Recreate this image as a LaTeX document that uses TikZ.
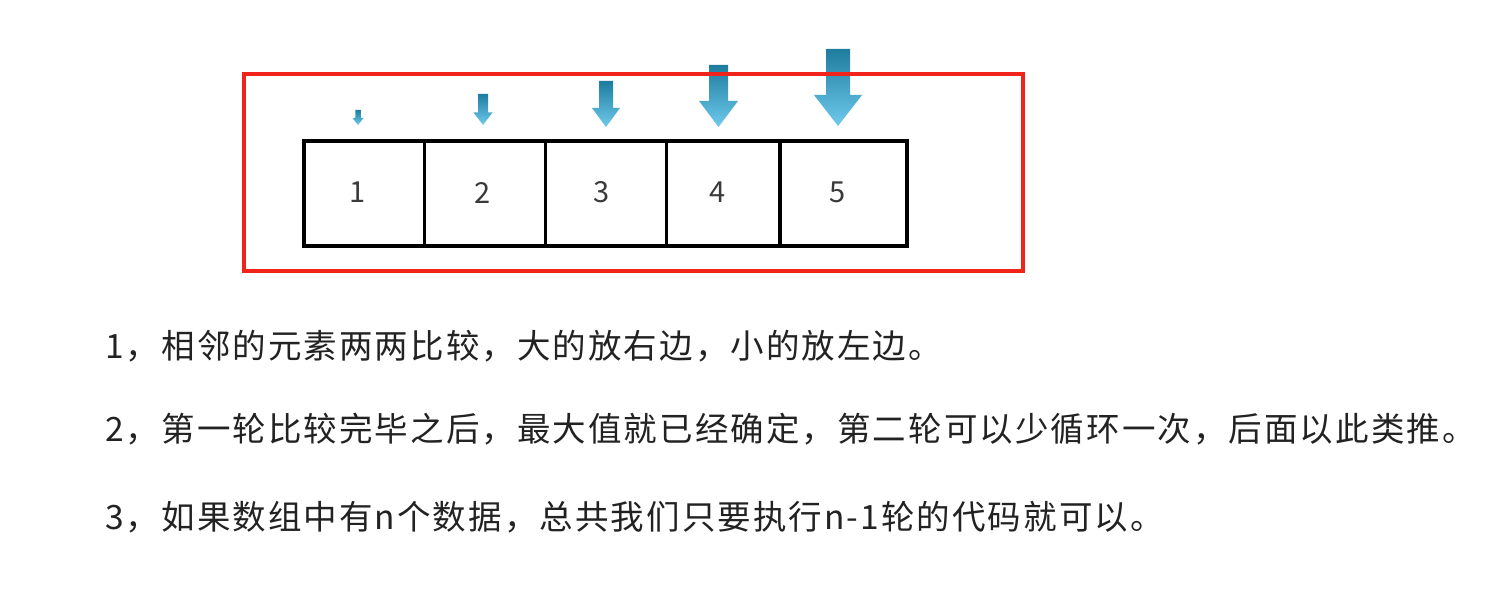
\documentclass[tikz,border=0pt]{standalone}
\usepackage{fontspec}
\newfontfamily\cjk{Noto Sans CJK SC}
\definecolor{redbox}{HTML}{F0241A}
\definecolor{arrtop}{HTML}{1E7C9E}
\definecolor{arrbot}{HTML}{6FCAEC}
\definecolor{txt}{HTML}{222222}
\definecolor{numc}{HTML}{3A3A3A}
\newcommand\dnarr[6]{%
  \shade[top color=arrtop, bottom color=arrbot]
    (#1-#2,#4) -- (#1+#2,#4) -- (#1+#2,#5) -- (#1+#3,#5) -- (#1,#6)
    -- (#1-#3,#5) -- (#1-#2,#5) -- cycle;}
\begin{document}
\begin{tikzpicture}[x=1pt,y=-1pt,
  cell/.style={draw=black, line width=3.7pt, minimum height=105pt,
    inner sep=0pt, outer sep=0pt, anchor=north west},
  num/.style={text=numc, font=\cjk\fontsize{29}{34}\selectfont, inner sep=0pt},
  line/.style={anchor=west, text=txt, inner sep=0pt,
    font=\cjk\fontsize{33.5}{40}\selectfont\addfontfeature{LetterSpace=6.2}}]
\useasboundingbox[fill=white] (0,0) rectangle (1493,591);
% arrows
\dnarr{358}{2.75}{5.5}{110}{118}{125}
\dnarr{483}{5}{9.5}{94}{112.5}{125}
\dnarr{606}{7}{14}{81}{108}{127}
\dnarr{718.5}{9.5}{19.5}{65}{101}{127}
\dnarr{838}{12}{24}{49}{95}{126}
% cells
\node[cell, minimum width=120.5pt] (c1) at (304,141) {};
\node[cell, minimum width=121pt] (c2) at (424.5,141) {};
\node[cell, minimum width=121pt] (c3) at (545.5,141) {};
\node[cell, minimum width=113.5pt] (c4) at (666.5,141) {};
\node[cell, minimum width=127pt] (c5) at (780,141) {};
\node[num] (n1) at (358,192.5) {1};
\node[num] (n2) at (482.5,192.5) {2};
\node[num] (n3) at (602,192.5) {3};
\node[num] (n4) at (718,192.5) {4};
\node[num] (n5) at (838,192.5) {5};
% red frame
\node[draw=redbox, line width=3.8pt, minimum width=779pt, minimum height=197pt,
  inner sep=0pt, outer sep=0pt, anchor=north west] (frame) at (243.7,73.7) {};
% text
\node[line] (t1) at (105,346) {1，相邻的元素两两比较，大的放右边，小的放左边。};
\node[line] (t2) at (105,429) {2，第一轮比较完毕之后，最大值就已经确定，第二轮可以少循环一次，后面以此类推。};
\node[line] (t3) at (105,517) {3，如果数组中有n个数据，总共我们只要执行n-1轮的代码就可以。};
\end{tikzpicture}
\end{document}
